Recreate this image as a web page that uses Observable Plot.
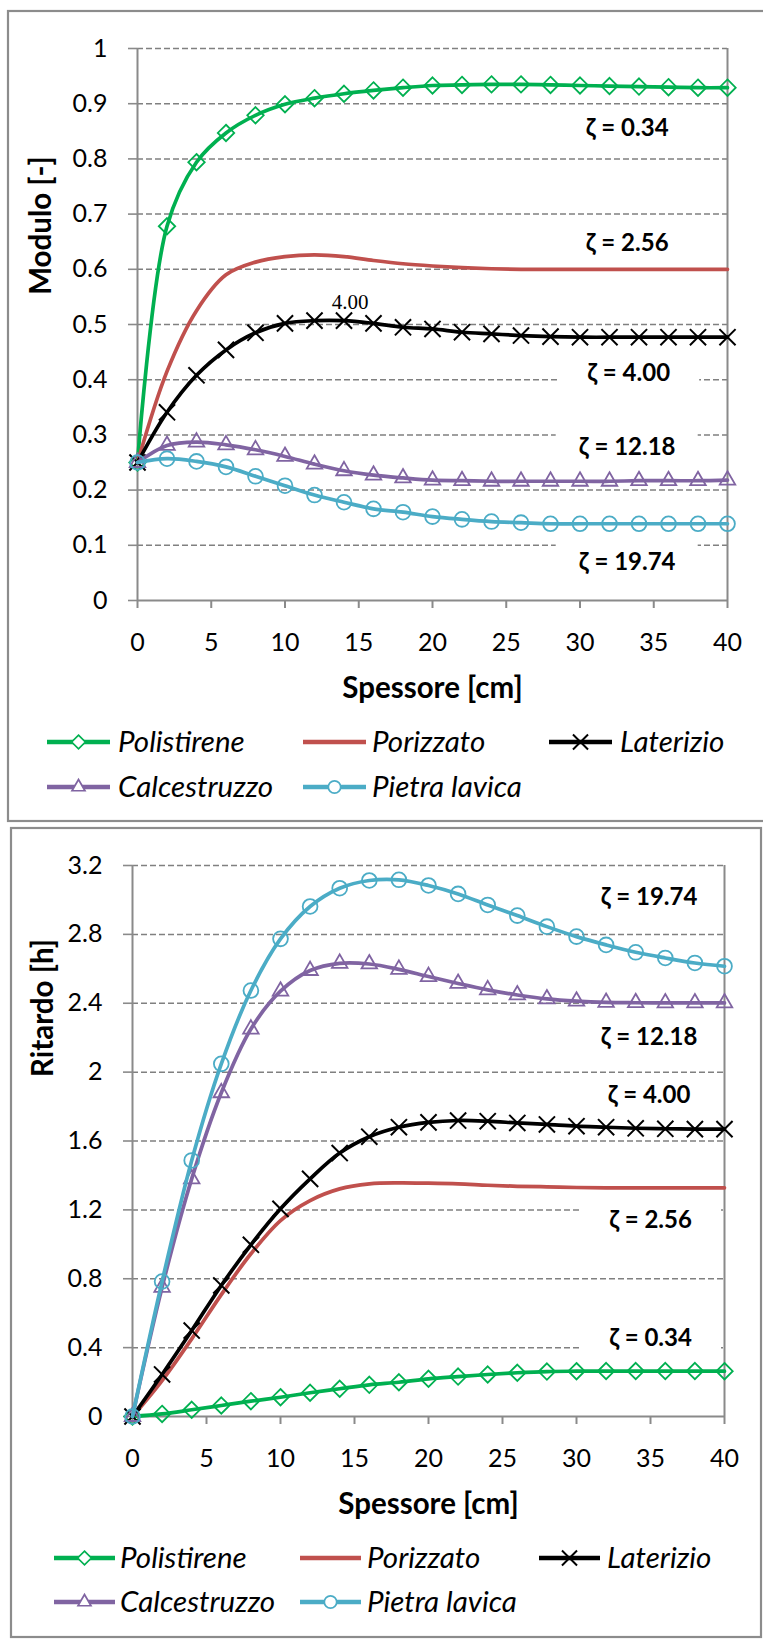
<!DOCTYPE html>
<html>
<head>
<meta charset="utf-8">
<script src="https://cdn.jsdelivr.net/npm/d3@7"></script>
<script src="https://cdn.jsdelivr.net/npm/@observablehq/plot@0.6"></script>
<style>
  body { margin: 0; background: #fff; }
  #page { position: relative; width: 763px; height: 1641px; overflow: hidden; background: #fff; }
  #page svg { position: absolute; left: 0; overflow: visible; }
</style>
</head>
<body>
<div id="page"></div>
<script>
// Wall thickness samples [cm]
const thickness = [0, 2, 4, 6, 8, 10, 12, 14, 16, 18, 20, 22, 24, 26, 28, 30, 32, 34, 36, 38, 40];
const xTicks = [0, 5, 10, 15, 20, 25, 30, 35, 40];

const materials = ["Polistirene", "Porizzato", "Laterizio", "Calcestruzzo", "Pietra lavica"];
const zetaValues = ["0.34", "2.56", "4.00", "12.18", "19.74"];

// Attenuation modulus [-]
const moduloPolistirene  = [0.25, 0.678, 0.794, 0.847, 0.879, 0.899, 0.910, 0.918, 0.924, 0.929, 0.933, 0.934, 0.935, 0.935, 0.934, 0.933, 0.932, 0.931, 0.930, 0.929, 0.929];
const moduloPorizzato    = [0.25, 0.415, 0.525, 0.590, 0.613, 0.623, 0.626, 0.623, 0.616, 0.610, 0.606, 0.603, 0.601, 0.600, 0.600, 0.600, 0.600, 0.600, 0.600, 0.600, 0.600];
const moduloLaterizio    = [0.25, 0.341, 0.408, 0.454, 0.485, 0.502, 0.507, 0.507, 0.502, 0.495, 0.492, 0.486, 0.483, 0.480, 0.478, 0.477, 0.477, 0.477, 0.477, 0.477, 0.477];
const moduloCalcestruzzo = [0.25, 0.281, 0.287, 0.282, 0.273, 0.261, 0.247, 0.235, 0.227, 0.222, 0.218, 0.217, 0.216, 0.216, 0.216, 0.216, 0.216, 0.217, 0.217, 0.217, 0.218];
const moduloPietraLavica = [0.25, 0.257, 0.252, 0.242, 0.225, 0.208, 0.191, 0.178, 0.166, 0.160, 0.152, 0.147, 0.143, 0.141, 0.139, 0.139, 0.139, 0.139, 0.139, 0.139, 0.139];

// Time lag [h]
const ritardoPolistirene  = [0, 0.015, 0.039, 0.064, 0.089, 0.112, 0.138, 0.161, 0.184, 0.199, 0.219, 0.232, 0.244, 0.254, 0.261, 0.263, 0.264, 0.264, 0.264, 0.264, 0.263];
const ritardoPorizzato    = [0, 0.209, 0.451, 0.708, 0.945, 1.138, 1.254, 1.322, 1.351, 1.357, 1.355, 1.351, 1.343, 1.337, 1.334, 1.330, 1.328, 1.328, 1.328, 1.328, 1.328];
const ritardoLaterizio    = [0, 0.244, 0.499, 0.761, 0.997, 1.206, 1.380, 1.530, 1.625, 1.680, 1.708, 1.719, 1.715, 1.705, 1.696, 1.686, 1.680, 1.674, 1.671, 1.669, 1.669];
const ritardoCalcestruzzo = [0, 0.750, 1.380, 1.880, 2.250, 2.470, 2.590, 2.632, 2.628, 2.597, 2.555, 2.515, 2.478, 2.448, 2.425, 2.412, 2.405, 2.403, 2.402, 2.402, 2.402];
const ritardoPietraLavica = [0, 0.784, 1.487, 2.048, 2.474, 2.774, 2.962, 3.068, 3.113, 3.117, 3.084, 3.035, 2.971, 2.909, 2.845, 2.787, 2.739, 2.696, 2.663, 2.634, 2.615];

const moduloTicks = [0, 0.1, 0.2, 0.3, 0.4, 0.5, 0.6, 0.7, 0.8, 0.9, 1];
const ritardoTicks = [0, 0.4, 0.8, 1.2, 1.6, 2, 2.4, 2.8, 3.2];

// Where each ζ tag sits, in data units (thickness, value)
const moduloZetaX = [33.2, 33.2, 33.3, 33.2, 33.2];
const moduloZetaY = [0.855, 0.647, 0.411, 0.277, 0.069];
const ritardoZetaX = [35.0, 35.0, 34.9, 34.9, 34.9];
const ritardoZetaY = [0.453, 1.138, 1.864, 2.201, 3.014];

// Series styling
const seriesColors = ["#00b050", "#c0504d", "#000000", "#8064a2", "#4bacc6"];
const markerSymbols = ["diamond2", null, "times", "triangle2", "circle"];
const d3Symbols = [d3.symbolDiamond2, null, d3.symbolX, d3.symbolTriangle2, d3.symbolCircle];
const gridColor = "#808080";
const axisColor = "#8a8a8a";
const font = "Lato, 'Noto Sans', sans-serif";

function buildPanel(opt) {
  const rows = materials.flatMap((m, i) =>
    thickness.map((t, j) => ({material: m, x: t, y: opt.values[i][j]})));
  const tags = materials.map((m, i) => ({
    material: m, label: `ζ = ${zetaValues[i]}`, x: opt.zetaX[i], y: opt.zetaY[i]
  }));

  const marks = [
    // dashed horizontal gridlines
    Plot.ruleY(opt.yTicks.filter((v) => v > 0), {stroke: gridColor, strokeWidth: 1.5, strokeDasharray: "6,3"}),
    // white backing behind the ζ tags
    Plot.rect(tags, {x1: "x", x2: "x", y1: "y", y2: "y", insetLeft: -71, insetRight: -71, insetTop: -20, insetBottom: -20, fill: "white"}),
    Plot.axisY({ticks: opt.yTicks, tickSize: 9, tickPadding: 21, tickFormat: (d) => String(d), stroke: axisColor, strokeWidth: 1.6, label: null, fontSize: 25}),
    Plot.axisX({ticks: xTicks, tickSize: 8, tickPadding: 25, tickFormat: (d) => String(d), stroke: axisColor, strokeWidth: 2, label: null, fontSize: 25}),
    Plot.ruleX([0], {stroke: axisColor, strokeWidth: 2}),
    Plot.ruleX([40], {stroke: axisColor, strokeWidth: 2}),
    Plot.ruleY([0], {stroke: axisColor, strokeWidth: 2})
  ];

  materials.forEach((m, i) => {
    const sub = rows.filter((d) => d.material === m);
    marks.push(Plot.line(sub, {x: "x", y: "y", stroke: seriesColors[i], strokeWidth: 3.7, curve: "catmull-rom"}));
    if (markerSymbols[i]) {
      marks.push(Plot.dot(sub, {x: "x", y: "y", symbol: markerSymbols[i], r: 7.4, stroke: seriesColors[i], strokeWidth: markerSymbols[i] === "times" ? 2 : 1.8, fill: "none"}));
    }
  });

  marks.push(
    Plot.text(tags, {x: "x", y: "y", text: "label", fontWeight: "bold", fontSize: 24, fill: "black"}),
    Plot.text([opt.xTitle], {text: (d) => d, frameAnchor: "bottom", textAnchor: "middle", lineAnchor: "middle", dy: 88, fontSize: 29.5, fontWeight: "bold", fill: "black"}),
    Plot.text([opt.yTitle], {text: (d) => d, frameAnchor: "left", textAnchor: "middle", lineAnchor: "middle", rotate: -90, dx: opt.yTitleDx, dy: opt.yTitleDy, fontSize: 29.5, fontWeight: "bold", fill: "black"})
  );
  if (opt.extra) marks.push(...opt.extra);

  const svg = Plot.plot({
    width: 763,
    height: opt.height,
    marginTop: opt.marginTop,
    marginBottom: opt.marginBottom,
    marginLeft: opt.marginLeft,
    marginRight: opt.marginRight,
    x: {domain: [0, 40]},
    y: {domain: opt.yDomain},
    style: {fontFamily: font, fontSize: "25px", color: "black", background: "white", overflow: "visible"},
    marks
  });
  svg.style.top = opt.top + "px";

  const root = d3.select(svg);
  // panel frame
  root.insert("rect", ":first-child")
    .attr("x", opt.frame[0]).attr("y", opt.frame[1])
    .attr("width", opt.frame[2]).attr("height", opt.frame[3])
    .attr("fill", "white").attr("stroke", "#8c8c8c").attr("stroke-width", 2.2);

  // legend below the chart
  const lg = root.append("g").attr("font-family", font).attr("text-anchor", "start");
  materials.forEach((m, i) => {
    const col = opt.legendCols[i % 3];
    const y = opt.legendRows[Math.floor(i / 3)];
    const g = lg.append("g");
    g.append("line")
      .attr("x1", col[0]).attr("x2", col[0] + opt.legendLine)
      .attr("y1", y).attr("y2", y)
      .attr("stroke", seriesColors[i]).attr("stroke-width", 4.5);
    if (d3Symbols[i]) {
      g.append("path")
        .attr("transform", `translate(${col[0] + opt.legendLine / 2},${y})`)
        .attr("d", d3.symbol(d3Symbols[i], i === 2 ? 150 : 120)())
        .attr("fill", i === 2 ? "none" : "white")
        .attr("stroke", seriesColors[i]).attr("stroke-width", i === 2 ? 2 : 1.7);
    }
    g.append("text")
      .attr("x", col[1]).attr("y", y).attr("dy", "0.35em")
      .attr("text-anchor", "start")
      .attr("font-size", opt.legendFont).attr("font-style", "italic")
      .attr("fill", "black")
      .text(m);
  });
  return svg;
}

const page = document.getElementById("page");

// Upper panel: attenuation modulus
const lat14 = thickness.indexOf(14);
page.appendChild(buildPanel({
  top: 0, height: 825,
  marginTop: 48, marginBottom: 225, marginLeft: 137, marginRight: 36,
  values: [moduloPolistirene, moduloPorizzato, moduloLaterizio, moduloCalcestruzzo, moduloPietraLavica],
  yDomain: [0, 1], yTicks: moduloTicks,
  zetaX: moduloZetaX, zetaY: moduloZetaY,
  xTitle: "Spessore [cm]", yTitle: "Modulo [-]", yTitleDx: -96, yTitleDy: -99,
  frame: [8, 11, 770, 810],
  legendCols: [[47, 118], [303, 372], [549, 620]], legendRows: [742, 787], legendLine: 63, legendFont: 29.5,
  extra: [
    Plot.text([{x: thickness[lat14], y: moduloLaterizio[lat14]}], {x: "x", y: "y", text: () => zetaValues[2], dx: 6, dy: -18, fontFamily: "'Liberation Serif', serif", fontSize: 21, fill: "black"})
  ]
}));

// Lower panel: time lag
page.appendChild(buildPanel({
  top: 825, height: 816,
  marginTop: 40, marginBottom: 225, marginLeft: 132, marginRight: 39,
  values: [ritardoPolistirene, ritardoPorizzato, ritardoLaterizio, ritardoCalcestruzzo, ritardoPietraLavica],
  yDomain: [0, 3.2], yTicks: ritardoTicks,
  zetaX: ritardoZetaX, zetaY: ritardoZetaY,
  xTitle: "Spessore [cm]", yTitle: "Ritardo [h]", yTitleDx: -89, yTitleDy: -133,
  frame: [11, 3, 750, 809],
  legendCols: [[54, 120], [300, 367], [539, 607]], legendRows: [733, 777], legendLine: 61, legendFont: 29.5
}));
</script>
</body>
</html>
